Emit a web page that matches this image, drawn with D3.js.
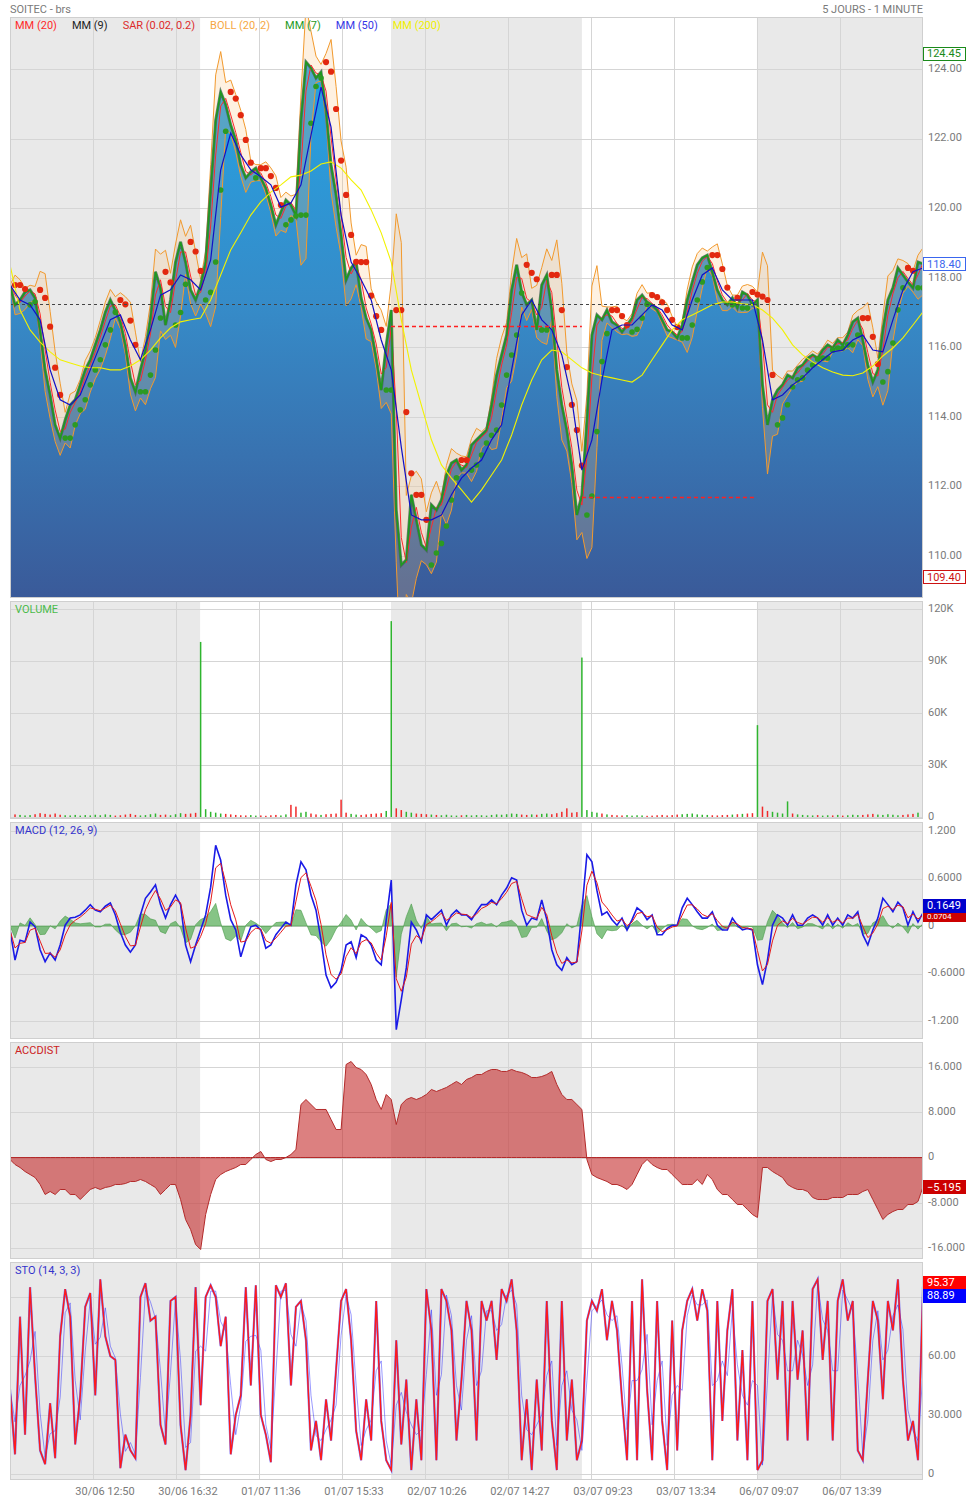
<!DOCTYPE html>
<html>
<head>
<meta charset="utf-8">
<script src="https://cdn.jsdelivr.net/npm/d3@7"></script>
<style>
body { margin: 0; background: #fff; }
svg { display: block; font-family: Roboto, "Liberation Sans", sans-serif; }
</style>
</head>
<body>
<svg id="chart" width="968" height="1501"></svg>
<script>
// values, one sample every ~5px (close, volume, macd, accdist, sto)
var closes = [
  117.79, 117.22, 117.36, 117.59, 117.65, 117.42, 116.50, 115.35, 114.63, 113.77,
  113.39, 113.91, 114.34, 114.49, 114.92, 115.35, 115.64, 116.07, 116.50, 117.01,
  117.36, 117.07, 116.73, 116.07, 115.12, 114.72, 115.35, 115.92, 116.84, 118.17,
  117.71, 116.64, 117.36, 118.45, 119.03, 118.45, 117.65, 117.36, 117.79, 118.45,
  120.52, 122.53, 123.34, 122.97, 122.39, 121.96, 121.24, 120.87, 121.04, 121.15,
  120.87, 120.58, 120.09, 119.52, 119.89, 120.23, 120.09, 119.80, 122.53, 124.20,
  124.03, 123.74, 123.91, 122.82, 121.24, 120.38, 119.23, 117.94, 118.28, 118.45,
  117.42, 116.84, 116.50, 115.69, 114.77, 116.07, 117.07, 111.32, 109.74, 109.89,
  111.76, 111.04, 110.32, 110.17, 111.47, 111.32, 111.61, 112.33, 112.67, 112.76,
  112.47, 112.62, 113.19, 113.34, 113.48, 113.62, 114.34, 115.20, 115.78, 116.35,
  117.65, 118.37, 117.59, 117.22, 117.36, 116.50, 117.79, 118.08, 117.07, 115.35,
  114.34, 113.62, 112.60, 111.18, 111.75, 113.91, 116.35, 116.93, 116.79, 117.07,
  116.73, 116.64, 116.44, 116.64, 116.84, 117.36, 117.50, 117.30, 117.22, 117.07,
  116.79, 116.50, 116.44, 116.27, 116.64, 117.36, 117.88, 118.37, 118.57, 118.65,
  118.17, 117.65, 117.36, 117.22, 117.42, 117.13, 117.59, 117.50, 117.22, 117.36,
  114.92, 113.77, 114.49, 114.77, 114.92, 115.20, 115.12, 115.41, 115.49, 115.69,
  115.78, 115.69, 115.92, 116.07, 115.98, 116.21, 116.07, 116.35, 116.73, 116.84,
  116.21, 115.49, 115.00, 115.35, 116.50, 117.36, 117.71, 118.28, 118.08, 117.88,
  117.71, 118.45, 118.40
];

// one sample every ~10px
var mm50 = [
  117.79, 117.36, 117.22, 116.79, 115.35, 114.49, 114.34, 114.63, 115.35, 116.07,
  116.79, 116.93, 116.21, 115.64, 116.50, 117.50, 117.65, 118.08, 117.94, 117.65,
  118.51, 121.10, 122.16, 121.53, 121.10, 120.90, 120.67, 120.03, 120.15, 120.67,
  122.10, 123.48, 122.33, 119.80, 118.45, 117.94, 117.36, 116.21, 115.35, 113.13,
  111.18, 111.04, 111.04, 111.18, 111.76, 112.24, 112.53, 112.76, 113.34, 113.77,
  115.35, 116.93, 117.36, 116.79, 116.50, 115.78, 114.49, 112.47, 113.34, 115.06,
  116.50, 116.64, 116.64, 116.93, 117.22, 117.07, 116.64, 116.50, 117.36, 118.08,
  118.28, 117.65, 117.36, 117.36, 117.36, 116.21, 114.49, 114.63, 114.92, 115.12,
  115.41, 115.64, 115.87, 115.92, 116.21, 116.35, 115.92, 115.87, 116.79, 117.65,
  118.17, 118.28
];

var mm200 = [
  118.37, 117.07, 116.50, 116.15, 115.87, 115.64, 115.55, 115.46, 115.41, 115.41,
  115.35, 115.35, 115.46, 115.64, 115.92, 116.27, 116.56, 116.73, 116.79, 116.84,
  117.36, 118.08, 118.80, 119.29, 119.80, 120.18, 120.46, 120.67, 120.90, 120.95,
  121.07, 121.27, 121.33, 121.15, 120.81, 120.52, 119.95, 119.29, 118.45, 116.79,
  115.35, 114.34, 113.34, 112.62, 112.24, 111.90, 111.55, 111.90, 112.33, 112.76,
  113.48, 114.34, 115.06, 115.64, 115.92, 115.87, 115.64, 115.41, 115.26, 115.18,
  115.12, 115.06, 115.00, 115.20, 115.64, 116.07, 116.50, 116.79, 116.93, 117.07,
  117.22, 117.30, 117.30, 117.25, 117.22, 117.07, 116.84, 116.50, 116.07, 115.78,
  115.58, 115.41, 115.29, 115.20, 115.18, 115.26, 115.46, 115.75, 115.98, 116.27,
  116.64, 117.02
];

var volumes = [
  3000, 1500, 1200, 900, 1100, 1600, 2200, 1800, 1400, 2000,
  1300, 1000, 900, 1200, 800, 1100, 900, 1300, 1000, 1500,
  1200, 800, 1000, 1400, 1800, 1200, 900, 1100, 1600, 2000,
  1200, 1400, 1000, 1600, 2200, 1800, 2000, 2400, 101000, 4500,
  3000, 2500, 2000, 1800, 1500, 1200, 1000, 900, 1100, 800,
  900, 700, 1000, 1200, 900, 1500, 7000, 6000, 2500, 3000,
  2000, 1500, 1200, 1600, 1800, 2000, 10000, 2500, 1800, 1400,
  1200, 1500, 1800, 2000, 2200, 3500, 113000, 5000, 4000, 3000,
  2500, 2000, 1800, 1600, 1400, 1200, 1000, 1300, 900, 800,
  1000, 1200, 900, 1100, 1000, 800, 1200, 1500, 1300, 1600,
  2000, 1800, 1400, 1200, 1500, 1300, 1800, 2000, 1600, 2200,
  3000, 5000, 2500, 2800, 92000, 4000, 3000, 2500, 2000, 1500,
  1200, 1000, 900, 1100, 800, 1000, 900, 700, 800, 1000,
  1200, 900, 1100, 1400, 1600, 1800, 2000, 1500, 1300, 1200,
  1000, 900, 1100, 1200, 1400, 1600, 1800, 2000, 2200, 53000,
  6000, 3500, 3000, 2500, 2000, 9000, 2000, 1500, 1200, 1000,
  900, 1100, 800, 1000, 900, 1200, 800, 1000, 1300, 1100,
  1200, 1500, 1800, 1400, 1200, 1600, 1300, 1000, 1200, 1500,
  1800, 2500, 57000
];

var macdLine = [
  -0.05, -0.43, -0.18, -0.20, 0.05, -0.01, -0.30, -0.45, -0.34, -0.43,
  -0.24, 0.01, 0.10, 0.11, 0.14, 0.20, 0.27, 0.20, 0.18, 0.25,
  0.29, 0.14, -0.08, -0.24, -0.33, -0.24, 0.14, 0.35, 0.43, 0.52,
  0.27, 0.10, 0.27, 0.39, 0.27, -0.24, -0.45, -0.24, -0.05, 0.14,
  0.49, 1.02, 0.83, 0.39, 0.08, -0.05, -0.39, -0.18, -0.01, 0.01,
  -0.05, -0.28, -0.24, -0.11, -0.03, 0.05, 0.01, 0.52, 0.81, 0.71,
  0.39, 0.20, -0.18, -0.62, -0.78, -0.71, -0.56, -0.24, -0.20, -0.40,
  -0.11, -0.15, -0.24, -0.43, -0.49, 0.08, 0.58, -1.31, -0.93, -0.53,
  0.05, -0.05, -0.20, 0.14, 0.08, 0.14, 0.20, 0.01, 0.14, 0.20,
  0.14, 0.14, 0.08, 0.18, 0.27, 0.27, 0.33, 0.27, 0.39, 0.48,
  0.61, 0.58, 0.20, 0.01, 0.10, 0.08, 0.33, 0.08, -0.30, -0.49,
  -0.56, -0.40, -0.49, -0.45, 0.20, 0.90, 0.81, 0.45, 0.14, 0.18,
  0.08, 0.01, 0.10, -0.05, 0.08, 0.23, 0.18, 0.08, 0.14, -0.11,
  -0.11, -0.03, 0.01, 0.01, 0.23, 0.35, 0.27, 0.18, 0.10, 0.10,
  0.18, 0.01, -0.05, -0.05, 0.10, 0.01, -0.05, -0.03, -0.05, -0.49,
  -0.74, -0.43, 0.01, 0.14, 0.10, 0.01, 0.14, 0.01, 0.01, 0.10,
  0.14, 0.10, 0.01, 0.14, 0.01, 0.10, 0.01, 0.14, 0.10, 0.18,
  -0.11, -0.24, -0.05, 0.10, 0.35, 0.27, 0.18, 0.30, 0.23, 0.01,
  0.18, 0.05, 0.1649
];

var accDist = [
  -0.35, -1.24, -1.77, -2.48, -3.01, -3.54, -4.77, -6.54, -6.01, -6.54,
  -5.66, -5.66, -6.54, -6.54, -7.43, -6.54, -5.66, -5.30, -5.66, -5.30,
  -5.13, -4.77, -4.77, -4.60, -4.24, -4.24, -3.89, -4.24, -4.77, -5.30,
  -6.54, -5.66, -4.77, -4.77, -7.43, -10.96, -12.73, -15.38, -16.27, -10.08,
  -6.54, -3.89, -3.01, -2.48, -2.12, -1.77, -1.24, -1.24, -0.35, 0.53,
  1.06, -0.35, -0.71, -0.35, -0.35, 0.00, 0.53, 1.41, 9.37, 10.25,
  9.37, 8.49, 8.49, 8.49, 6.72, 4.95, 4.95, 16.44, 16.97, 15.91,
  15.56, 14.67, 12.91, 10.25, 8.49, 11.14, 10.25, 5.83, 9.37, 10.25,
  10.61, 10.25, 10.61, 11.14, 12.02, 11.67, 12.02, 12.38, 12.91, 13.44,
  12.91, 13.79, 14.14, 14.67, 14.67, 15.21, 15.56, 15.56, 15.21, 15.21,
  15.56, 15.21, 15.03, 14.67, 14.14, 14.14, 14.32, 14.67, 15.21, 12.91,
  11.14, 10.25, 10.25, 9.37, 8.49, -0.35, -3.01, -3.54, -3.89, -4.24,
  -4.77, -4.77, -5.13, -5.66, -4.77, -3.01, -1.24, -0.35, -1.24, -1.77,
  -2.12, -2.12, -3.01, -3.89, -4.77, -4.77, -4.77, -3.89, -4.77, -3.01,
  -3.89, -5.66, -6.54, -6.54, -7.43, -8.31, -8.31, -9.19, -10.08, -10.61,
  -1.77, -1.77, -2.48, -3.01, -3.54, -4.77, -5.30, -5.66, -5.66, -6.01,
  -7.07, -7.43, -7.43, -7.43, -7.07, -7.07, -7.07, -6.54, -6.54, -6.54,
  -6.01, -5.66, -7.43, -9.19, -10.96, -10.08, -9.55, -9.19, -9.19, -8.31,
  -8.31, -7.78, -5.195
];

var stoK = [
  43, 10, 80, 20, 95, 50, 12, 5, 36, 8,
  70, 94, 80, 15, 40, 85, 92, 40, 99, 70,
  60, 58, 3, 20, 12, 8, 90, 97, 78, 80,
  25, 15, 88, 90, 25, 2, 30, 95, 35, 90,
  96, 90, 65, 80, 10, 30, 40, 95, 45, 96,
  30, 20, 6, 96, 90, 97, 45, 85, 88, 68,
  12, 27, 7, 38, 17, 53, 88, 94, 68, 22,
  7, 38, 17, 88, 27, 7, 2, 68, 15, 48,
  2, 38, 7, 94, 73, 7, 94, 88, 73, 17,
  48, 88, 73, 17, 88, 78, 88, 58, 94, 88,
  99, 73, 7, 38, 2, 48, 12, 88, 27, 2,
  88, 17, 48, 7, 17, 78, 88, 83, 94, 68,
  88, 73, 38, 7, 88, 7, 99, 43, 7, 88,
  27, 2, 78, 12, 73, 88, 94, 78, 94, 83,
  7, 88, 27, 73, 94, 17, 63, 7, 88, 2,
  7, 88, 94, 48, 88, 17, 88, 48, 73, 17,
  94, 99, 58, 88, 17, 88, 99, 78, 88, 12,
  7, 48, 88, 78, 38, 88, 73, 99, 48, 17,
  27, 7, 95.37
];

var timeLabels = ["30/06 12:50", "30/06 16:32", "01/07 11:36", "01/07 15:33", "02/07 10:26",
                  "02/07 14:27", "03/07 09:23", "03/07 13:34", "06/07 09:07", "06/07 13:39"];
// session starts, in sample units of the closes array
var sessionStarts = [0, 37.9, 75.95, 114.0, 148.9];
var prevClose = 117.25;
var refSessions = [2, 3];
var refValues = [116.6, 111.7];
var priceHigh = 124.45, priceLow = 109.40, priceLast = 118.40;
var macdLast = 0.1649, signalLast = 0.0704, accLast = -5.195, stoKLast = 95.37, stoDLast = 88.89;

var priceTicks = [110, 112, 114, 116, 118, 120, 122, 124];
var volTicks = [0, 30000, 60000, 90000, 120000];
var volLabels = ["0", "30K", "60K", "90K", "120K"];
var macdTicks = [-1.2, -0.6, 0, 0.6, 1.2];
var macdLabels = ["-1.200", "-0.6000", "0", "0.6000", "1.200"];
var accTicks = [-16, -8, 0, 8, 16];
var accLabels = ["-16.000", "-8.000", "0", "8.000", "16.000"];
var stoTicks = [0, 30, 60, 90];
var stoLabels = ["0", "30.000", "60.00", "90.00"];

var legendNames = ["MM (20)", "MM (9)", "SAR (0.02, 0.2)", "BOLL (20, 2)", "MM (7)", "MM (50)", "MM (200)"];
var legendColors = ["#ff2a2a", "#222222", "#dd2b2b", "#f6a742", "#1e9a1e", "#3535e6", "#f0f000"];

var X0 = 10, X1 = 923;
var nBars = closes.length;
var x = d3.scaleLinear().domain([0, nBars - 1]).range([X0, X1]);
function xs(arr) { return d3.scaleLinear().domain([0, arr.length - 1]).range([X0, X1]); }

var svg = d3.select("#chart");
var defs = svg.append("defs");

var grad = defs.append("linearGradient").attr("id", "priceFill")
    .attr("gradientUnits", "userSpaceOnUse")
    .attr("x1", 0).attr("y1", 17).attr("x2", 0).attr("y2", 598);
grad.append("stop").attr("offset", "0%").attr("stop-color", "#22a7e8");
grad.append("stop").attr("offset", "50%").attr("stop-color", "#368bc8");
grad.append("stop").attr("offset", "100%").attr("stop-color", "#3a5a99");

function makePanel(id, top, bottom, y, ticks, labels) {
    var g = svg.append("g");
    g.append("rect").attr("x", X0).attr("y", top).attr("width", X1 - X0).attr("height", bottom - top).attr("fill", "#fff");
    sessionStarts.forEach(function(s, k) {
        if (k % 2) return;
        var end = k + 1 < sessionStarts.length ? x(sessionStarts[k + 1]) : X1;
        g.append("rect").attr("x", x(s)).attr("y", top).attr("width", end - x(s))
            .attr("height", bottom - top).attr("fill", "#e9e9e9");
    });
    g.selectAll(".hgrid").data(ticks).enter().append("line")
        .attr("x1", X0).attr("x2", X1)
        .attr("y1", function(d) { return Math.round(y(d)) + 0.5; })
        .attr("y2", function(d) { return Math.round(y(d)) + 0.5; })
        .attr("stroke", "#d5d5d5");
    g.selectAll(".vgrid").data(d3.range(1, 11)).enter().append("line")
        .attr("x1", function(k) { return Math.round(x(k * (nBars - 1) / 11)) + 0.5; })
        .attr("x2", function(k) { return Math.round(x(k * (nBars - 1) / 11)) + 0.5; })
        .attr("y1", top).attr("y2", bottom)
        .attr("stroke", "#d5d5d5");
    defs.append("clipPath").attr("id", "clip-" + id).append("rect")
        .attr("x", X0).attr("y", top).attr("width", X1 - X0).attr("height", bottom - top);
    var plot = g.append("g").attr("clip-path", "url(#clip-" + id + ")");
    var over = g.append("g");
    over.append("rect").attr("x", X0 + 0.5).attr("y", top + 0.5).attr("width", X1 - X0 - 1)
        .attr("height", bottom - top - 1).attr("fill", "none").attr("stroke", "#cfcfcf");
    over.selectAll(".ylab").data(ticks).enter().append("text")
        .attr("x", 928).attr("y", function(d) { return y(d) - 1; })
        .attr("dy", "0.35em")
        .attr("font-size", 11).attr("fill", "#7a7a7a")
        .text(function(d, i) { return labels[i]; });
    return {plot: plot, over: over, top: top, bottom: bottom};
}

function valueBox(layer, yc, text, fg, bg, border, h, fs) {
    h = h || 13;
    fs = fs || 11;
    layer.append("rect").attr("x", 923.5).attr("y", Math.round(yc - h / 2) + 0.5).attr("width", 42).attr("height", h)
        .attr("fill", bg).attr("stroke", border);
    layer.append("text").attr("x", 927).attr("y", yc).attr("dy", "0.36em")
        .attr("font-size", fs).attr("fill", fg).text(text);
}

function panelTitle(layer, top, text, color) {
    layer.append("text").attr("x", 15).attr("y", top + 12).attr("font-size", 11)
        .attr("fill", color).text(text);
}

function rolling(arr, w, fn) {
    return arr.map(function(d, i) { return fn(arr.slice(Math.max(0, i - w + 1), i + 1)); });
}
function popDev(s) {
    var m = d3.mean(s);
    return Math.sqrt(d3.mean(s, function(v) { return (v - m) * (v - m); }));
}

function parabolicSar(v, step, maxStep) {
    var up = v[1] >= v[0];
    var sar = up ? Math.min(v[0], v[1]) : Math.max(v[0], v[1]);
    var ep = up ? Math.max(v[0], v[1]) : Math.min(v[0], v[1]);
    var af = step;
    var out = [{i: 1, v: sar, up: up}];
    for (var i = 2; i < v.length; i++) {
        sar = sar + af * (ep - sar);
        if (up) {
            sar = Math.min(sar, v[i - 1], v[i - 2]);
            if (v[i] < sar) { up = false; sar = ep; ep = v[i]; af = step; }
            else if (v[i] > ep) { ep = v[i]; af = Math.min(af + step, maxStep); }
        } else {
            sar = Math.max(sar, v[i - 1], v[i - 2]);
            if (v[i] > sar) { up = true; sar = ep; ep = v[i]; af = step; }
            else if (v[i] < ep) { ep = v[i]; af = Math.min(af + step, maxStep); }
        }
        out.push({i: i, v: sar, up: up});
    }
    return out;
}

// header
svg.append("text").attr("x", 10).attr("y", 12.5).attr("font-size", 11).attr("fill", "#7a7a7a").text("SOITEC - brs");
svg.append("text").attr("x", 923).attr("y", 12.5).attr("font-size", 11).attr("fill", "#7a7a7a")
    .attr("text-anchor", "end").text("5 JOURS - 1 MINUTE");

// ---- price panel
var yP = d3.scaleLinear().domain([110, 124]).range([556, 69]);
var pp = makePanel("price", 17, 598, yP, priceTicks, priceTicks.map(d3.format(".2f")));

pp.plot.append("path").datum(closes)
    .attr("fill", "url(#priceFill)")
    .attr("d", d3.area().x(function(d, i) { return x(i); }).y0(598).y1(function(d) { return yP(d); }));

var bollMid = rolling(closes, 3, d3.mean);
var bollDev = rolling(closes, 3, popDev);
var bollUp = bollMid.map(function(m, i) { return m + 2 * bollDev[i]; });
var bollLo = bollMid.map(function(m, i) { return m - 2 * bollDev[i]; });
pp.plot.append("path").datum(closes)
    .attr("fill", "rgba(250,190,120,0.22)")
    .attr("d", d3.area().x(function(d, i) { return x(i); })
        .y0(function(d, i) { return yP(bollLo[i]); }).y1(function(d, i) { return yP(bollUp[i]); }));
[bollUp, bollLo].forEach(function(b) {
    pp.plot.append("path").datum(b).attr("fill", "none").attr("stroke", "#f29a2e").attr("stroke-width", 1)
        .attr("d", d3.line().x(function(d, i) { return x(i); }).y(function(d) { return yP(d); }));
});

pp.plot.append("path").datum(closes).attr("fill", "none").attr("stroke", "#46625a").attr("stroke-width", 3)
    .attr("stroke-opacity", 0.8)
    .attr("d", d3.line().x(function(d, i) { return x(i); }).y(function(d) { return yP(d); }));
var mm20 = rolling(closes, 2, d3.mean);
pp.plot.append("path").datum(mm20).attr("fill", "none").attr("stroke", "#ff2a2a").attr("stroke-width", 1)
    .attr("d", d3.line().x(function(d, i) { return x(i); }).y(function(d) { return yP(d); }));
pp.plot.append("path").datum(closes).attr("fill", "none").attr("stroke", "#1e9a1e").attr("stroke-width", 1.6)
    .attr("d", d3.line().x(function(d, i) { return x(i); }).y(function(d) { return yP(d); }));

var sar = parabolicSar(closes, 0.2, 0.6);
pp.plot.selectAll(".sar").data(sar).enter().append("circle")
    .attr("cx", function(d) { return x(d.i); })
    .attr("cy", function(d) { return yP(d.v); })
    .attr("r", function(d) { return d.up ? 2.8 : 3.1; })
    .attr("fill", function(d) { return d.up ? "#2c9a22" : "#e2280f"; });

var x50 = xs(mm50), x200 = xs(mm200);
pp.plot.append("path").datum(mm200).attr("fill", "none").attr("stroke", "#f2f200").attr("stroke-width", 1.1)
    .attr("d", d3.line().x(function(d, i) { return x200(i); }).y(function(d) { return yP(d); }));
pp.plot.append("path").datum(mm50).attr("fill", "none").attr("stroke", "#1010c8").attr("stroke-width", 1.2)
    .attr("d", d3.line().x(function(d, i) { return x50(i); }).y(function(d) { return yP(d); }));

pp.plot.append("line").attr("x1", X0).attr("x2", X1)
    .attr("y1", Math.round(yP(prevClose)) + 0.5).attr("y2", Math.round(yP(prevClose)) + 0.5)
    .attr("stroke", "#444").attr("stroke-dasharray", "3,3");
refSessions.forEach(function(s, k) {
    var yy = Math.round(yP(refValues[k])) + 0.5;
    pp.plot.append("line").attr("x1", x(sessionStarts[s])).attr("x2", x(sessionStarts[s + 1]))
        .attr("y1", yy).attr("y2", yy).attr("stroke", "#ff2020").attr("stroke-width", 1.4)
        .attr("stroke-dasharray", "4,3");
});

var lx = 15;
legendNames.forEach(function(name, i) {
    var t = pp.over.append("text").attr("x", lx).attr("y", 29).attr("font-size", 11)
        .attr("fill", legendColors[i]).text(name);
    lx += t.node().getComputedTextLength() + 15;
});
valueBox(pp.over, yP(priceHigh), d3.format(".2f")(priceHigh), "#1a8a1a", "#fff", "#1a8a1a");
valueBox(pp.over, yP(priceLast), d3.format(".2f")(priceLast), "#3a66ee", "#fff", "#3a66ee");
valueBox(pp.over, yP(priceLow), d3.format(".2f")(priceLow), "#cc1111", "#fff", "#cc1111");

// ---- volume panel
var yV = d3.scaleLinear().domain([0, 120000]).range([817, 609]);
var vp = makePanel("vol", 601, 819, yV, volTicks, volLabels);
vp.plot.selectAll(".vbar").data(volumes).enter().append("rect")
    .attr("x", function(d, i) { return x(i) - 0.75; })
    .attr("width", 1.5)
    .attr("y", function(d) { return yV(d); })
    .attr("height", function(d) { return yV(0) - yV(d); })
    .attr("fill", function(d, i) { return i > 0 && closes[i] < closes[i - 1] ? "#f02a2a" : "#2fb52f"; });
panelTitle(vp.over, 601, "VOLUME", "#4cbb4c");

// ---- macd panel
var yM = d3.scaleLinear().domain([-1.2, 1.2]).range([1021, 831]);
var mp = makePanel("macd", 822, 1039, yM, macdTicks, macdLabels);
var signal = [];
macdLine.forEach(function(v, i) { signal.push(i ? 0.6 * v + 0.4 * signal[i - 1] : v); });
var hist = macdLine.map(function(v, i) { return v - signal[i]; });
var xm = xs(macdLine);
mp.plot.append("path").datum(hist)
    .attr("fill", "rgba(60,160,60,0.62)").attr("stroke", "#4a9a4a").attr("stroke-width", 0.6)
    .attr("d", d3.area().x(function(d, i) { return xm(i); }).y0(yM(0)).y1(function(d) { return yM(d); }));
mp.plot.append("path").datum(macdLine).attr("fill", "none").attr("stroke", "#1a1ae6").attr("stroke-width", 1.6)
    .attr("d", d3.line().x(function(d, i) { return xm(i); }).y(function(d) { return yM(d); }));
mp.plot.append("path").datum(signal).attr("fill", "none").attr("stroke", "#e61a1a").attr("stroke-width", 1)
    .attr("d", d3.line().x(function(d, i) { return xm(i); }).y(function(d) { return yM(d); }));
panelTitle(mp.over, 822, "MACD (12, 26, 9)", "#3333cc");
// the signal box sits just under the macd box, as on the original
valueBox(mp.over, 916, d3.format(".4f")(signalLast), "#fff", "#cc0000", "#cc0000", 9, 8);
valueBox(mp.over, 905.5, d3.format(".4f")(macdLast), "#fff", "#0000cc", "#0000cc");

// ---- accdist panel
var yA = d3.scaleLinear().domain([-16, 16]).range([1248, 1067]);
var ap = makePanel("acc", 1042, 1259, yA, accTicks, accLabels);
var xa = xs(accDist);
ap.plot.append("path").datum(accDist)
    .attr("fill", "rgba(196,44,44,0.6)").attr("stroke", "#b32a2a").attr("stroke-width", 1)
    .attr("d", d3.area().x(function(d, i) { return xa(i); }).y0(yA(0)).y1(function(d) { return yA(d); }));
panelTitle(ap.over, 1042, "ACCDIST", "#cc2222");
valueBox(ap.over, yA(accLast), d3.format(".3f")(accLast), "#fff", "#cc0000", "#cc0000");

// ---- sto panel
var yS = d3.scaleLinear().domain([0, 60]).range([1474, 1356]);
var sp = makePanel("sto", 1262, 1480, yS, stoTicks, stoLabels);
var stoD = rolling(stoK, 2, d3.mean);
var xk = xs(stoK);
sp.plot.append("path").datum(stoK).attr("fill", "none").attr("stroke", "#2020ff").attr("stroke-width", 2.2)
    .attr("stroke-opacity", 0.6)
    .attr("d", d3.line().x(function(d, i) { return xk(i); }).y(function(d) { return yS(d); }));
sp.plot.append("path").datum(stoD).attr("fill", "none").attr("stroke", "#2020ff").attr("stroke-width", 1)
    .attr("stroke-opacity", 0.45)
    .attr("d", d3.line().x(function(d, i) { return xk(i); }).y(function(d) { return yS(d); }));
sp.plot.append("path").datum(stoK).attr("fill", "none").attr("stroke", "#ff1a1a").attr("stroke-width", 1.4)
    .attr("d", d3.line().x(function(d, i) { return xk(i); }).y(function(d) { return yS(d); }));
panelTitle(sp.over, 1262, "STO (14, 3, 3)", "#3333cc");
valueBox(sp.over, yS(stoKLast) - 4, d3.format(".2f")(stoKLast), "#fff", "#ff0000", "#ff0000");
valueBox(sp.over, yS(stoDLast) - 4, d3.format(".2f")(stoDLast), "#fff", "#0000ff", "#0000ff");

// ---- time axis
svg.selectAll(".xlab").data(timeLabels).enter().append("text")
    .attr("x", function(d, i) { return x((i + 1) * (nBars - 1) / 11) + 12; })
    .attr("y", 1495)
    .attr("text-anchor", "middle").attr("font-size", 11).attr("fill", "#7a7a7a")
    .text(function(d) { return d; });
</script>
</body>
</html>
